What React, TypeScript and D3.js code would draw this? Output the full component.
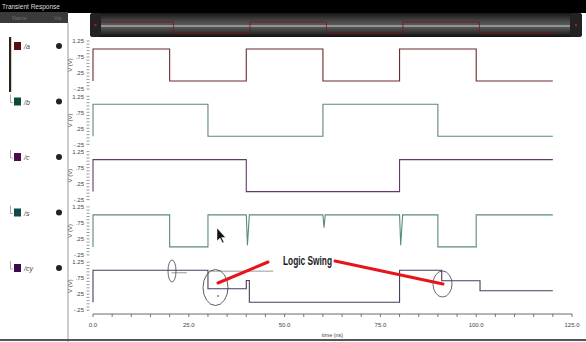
import React from 'react';
import * as d3 from 'd3';

// signal names and swatch colours
const names = ['/a', '/b', '/c', '/s', '/cy'];
const swatchColors = ['#5a0c10', '#0d4a3c', '#4a0c4e', '#0e4a4c', '#3a0c4e'];
const lineColors = ['#6e2a2c', '#5c8682', '#64396a', '#5a8a82', '#4a3c5c'];

// waveforms, [time ns, volts]
const aWave = [[0, 0], [0, 1], [20, 1], [20, 0], [40, 0], [40, 1], [60, 1], [60, 0], [80, 0], [80, 1], [100, 1], [100, 0], [120, 0]];
const bWave = [[0, 0], [0, 1], [30, 1], [30, 0], [60, 0], [60, 1], [90, 1], [90, 0], [120, 0]];
const cWave = [[0, 0], [0, 1], [40, 1], [40, 0], [80, 0], [80, 1], [120, 1]];
const sWave = [[0, 0], [0, 1], [20, 1], [20, 0], [30, 0], [30, 1], [40, 1], [40.3, 0.05], [40.8, 1], [60, 1], [60.3, 0.6], [60.6, 1], [80, 1], [80.3, 0.05], [80.8, 1], [90, 1], [90, 0], [100, 0], [100, 1], [120, 1]];
const cyWave = [[0, 0], [0, 1], [20, 1], [30, 1], [30, 0.42], [40, 0.42], [40, 0.68], [40.8, 0.68], [40.8, 0], [80, 0], [80, 1], [91, 1], [91, 0.67], [101, 0.67], [101, 0.36], [120, 0.36]];
const cyGhost = [[20.5, 0.92], [24.5, 0.92], null, [30, 0.97], [47, 0.97]];
const waves = [aWave, bWave, cWave, sWave, cyWave];

const yTickValues = [1.25, 0.75, 0.25, -0.25];
const yTickLabels = ['1.25', '.75', '.25', '-.25'];
const xMajor = [0, 25, 50, 75, 100, 125];
const xMinor = d3.range(0, 126, 5);

const W = 586;
const H = 342;
const font = 'Liberation Sans, Arial, sans-serif';

export default function App() {
  const x = d3.scaleLinear().domain([0, 125]).range([93, 572]);
  const panelTop = (i: number) => 41 + i * 55.3;
  const yFor = (i: number) => d3.scaleLinear().domain([1.25, -0.25]).range([panelTop(i), panelTop(i) + 48]);

  // overview inside scroll bar
  const ox = d3.scaleLinear().domain([0, 125]).range([97, 575]);
  const oy = d3.scaleLinear().domain([0, 1]).range([33, 22]);
  const overview = d3.line<any>().x(d => ox(d[0])).y(d => oy(d[1]))(aWave) || '';

  const minorY = d3.range(-0.25, 1.2501, 0.1);
  const axisY = 314;

  const arrow = 'M217,228 L217,241 L220,238 L222.5,243 L224,242.3 L221.6,237.4 L225.5,237.4 Z';

  return (
    <svg width={W} height={H} style={{ position: 'absolute', left: 0, top: 0, background: '#fff' }} fontFamily={font}>
      <defs>
        <linearGradient id="bar" x1="0" y1="0" x2="0" y2="1">
          <stop offset="0%" stopColor="#151515" />
          <stop offset="35%" stopColor="#4a4a4a" />
          <stop offset="55%" stopColor="#5e5e5e" />
          <stop offset="100%" stopColor="#101010" />
        </linearGradient>
      </defs>
      <rect x={0} y={0} width={W} height={H} fill="#fff" />
      {/* title bar */}
      <rect x={0} y={0} width={W} height={13} fill="#000" />
      <text x={2} y={9} fontSize={6.5} fill="#ddd">Transient Response</text>
      {/* name header */}
      <rect x={0} y={12} width={68} height={11} fill="#3a3a3a" />
      <text x={12} y={20} fontSize={5.5} fill="#707070">Name</text>
      <text x={54} y={20} fontSize={5.5} fill="#707070">Vis</text>
      {/* scroll bar */}
      <rect x={90} y={13} width={492} height={24} rx={3} fill="url(#bar)" />
      <line x1={100} x2={570} y1={26} y2={26} stroke="#c9c9c9" strokeWidth={1.2} />
      <path d={overview} fill="none" stroke="#7a1418" strokeWidth={0.9} opacity={0.85} />
      <rect x={90} y={13} width={11} height={24} rx={3} fill="#222" />
      <rect x={570} y={13} width={12} height={24} rx={3} fill="#222" />
      <circle cx={95.5} cy={25} r={1.2} fill="#a02028" />
      <circle cx={576} cy={25} r={1.2} fill="#a02028" />

      {/* left panel */}
      <line x1={68} x2={68} y1={23} y2={H} stroke="#9a9a9a" strokeWidth={1} />
      <line x1={0} x2={W} y1={340} y2={340} stroke="#555" strokeWidth={2} />
      <rect x={9} y={37} width={2.2} height={55} fill="#2a2418" />
      {names.map((n, i) => {
        const cy = 46 + i * 55.5;
        return (
          <g key={n}>
            {i > 0 && <path d={`M10.5,${cy - 7} V${cy + 1} H13`} fill="none" stroke="#888" strokeWidth={0.7} />}
            <rect x={14} y={cy - 4} width={7} height={8} fill={swatchColors[i]} />
            <text x={24} y={cy + 3} fontSize={7} fill="#444" fontStyle="italic">{n}</text>
            <circle cx={59} cy={cy} r={3} fill="#222" />
          </g>
        );
      })}

      {/* subplots */}
      {waves.map((w, i) => {
        const y = yFor(i);
        const line = d3.line<any>().x(d => x(d[0])).y(d => y(d[1]));
        const mid = panelTop(i) + 24;
        return (
          <g key={i}>
            {minorY.map((v, k) => (
              <line key={k} x1={86.5} x2={89.5} y1={y(v)} y2={y(v)} stroke="#555" strokeWidth={0.6} />
            ))}
            {yTickValues.map((v, k) => (
              <text key={k} x={84} y={y(v) + 2.2} fontSize={6} fill="#444" textAnchor="end">{yTickLabels[k]}</text>
            ))}
            <text transform={`translate(72,${mid}) rotate(-90)`} fontSize={6} fill="#444" textAnchor="middle">V (V)</text>
            <path d={line(w as any) || ''} fill="none" stroke={lineColors[i]} strokeWidth={1.1} />
            {i === 4 && (
              <path
                d={d3.line<any>().defined(d => d !== null).x(d => x(d[0])).y(d => y(d[1]))(cyGhost as any) || ''}
                fill="none" stroke="#9a9a9a" strokeWidth={1}
              />
            )}
          </g>
        );
      })}

      {/* x axis */}
      <line x1={x(0)} x2={x(125)} y1={axisY} y2={axisY} stroke="#444" strokeWidth={0.8} />
      {xMinor.map(t => (
        <line key={t} x1={x(t)} x2={x(t)} y1={axisY} y2={axisY + 3} stroke="#444" strokeWidth={0.7} />
      ))}
      {xMajor.map(t => (
        <text key={t} x={x(t)} y={axisY + 13} fontSize={6} fill="#444" textAnchor="middle">{t.toFixed(1)}</text>
      ))}
      <text x={(x(0) + x(125)) / 2} y={axisY + 23} fontSize={5.5} fill="#444" textAnchor="middle">time (ns)</text>

      {/* annotations */}
      <ellipse cx={172} cy={271} rx={4} ry={11} fill="none" stroke="#444" strokeWidth={0.8} />
      <ellipse cx={215.5} cy={287.5} rx={12.5} ry={18} fill="none" stroke="#333" strokeWidth={0.8} />
      <ellipse cx={442.5} cy={284} rx={9.5} ry={13} fill="none" stroke="#444" strokeWidth={0.8} />
      <circle cx={218} cy={296} r={0.8} fill="#333" />
      <line x1={268} y1={262} x2={218} y2={283} stroke="#e8141c" strokeWidth={3} strokeLinecap="round" />
      <line x1={335} y1={261} x2={443} y2={284} stroke="#e8141c" strokeWidth={3} strokeLinecap="round" />
      <text x={283} y={264.5} fontSize={12} fontWeight="bold" fill="#1a1a1a" textLength={49} lengthAdjust="spacingAndGlyphs">Logic Swing</text>
      <path d={arrow} fill="#111" stroke="#fff" strokeWidth={0.5} />
    </svg>
  );
}
